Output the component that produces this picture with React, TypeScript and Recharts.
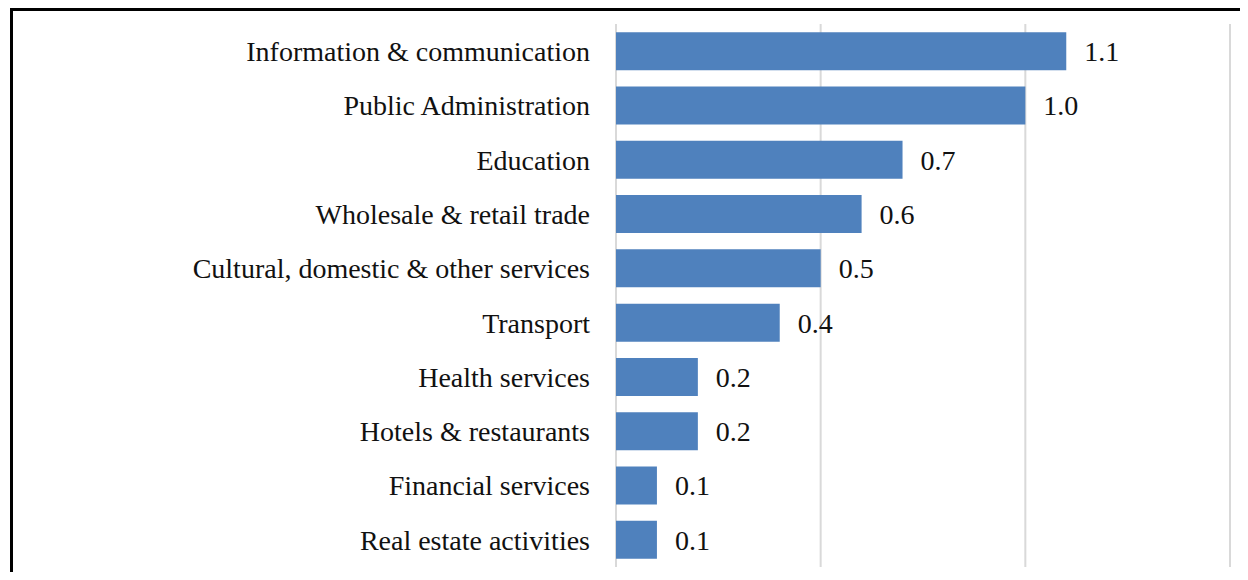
import React from 'react';
import { BarChart, Bar, XAxis, YAxis, CartesianGrid, LabelList } from 'recharts';

const sectors = [
  'Information & communication',
  'Public Administration',
  'Education',
  'Wholesale & retail trade',
  'Cultural, domestic & other services',
  'Transport',
  'Health services',
  'Hotels & restaurants',
  'Financial services',
  'Real estate activities',
];

const values = [1.1, 1.0, 0.7, 0.6, 0.5, 0.4, 0.2, 0.2, 0.1, 0.1];

const xTicks = [0, 0.5, 1, 1.5];

const data = sectors.map((name, i) => ({ name, value: values[i] }));

const FONT = '"Liberation Serif", serif';

const App: React.FC = () => {
  return (
    <div
      style={{
        position: 'relative',
        width: 1248,
        height: 580,
        margin: -8,
        overflow: 'hidden',
        background: '#fff',
      }}
    >
      {/* frame around the chart, only top and left edges are in view */}
      <div
        style={{
          position: 'absolute',
          left: 10,
          top: 8,
          width: 1238,
          height: 572,
          borderTop: '3px solid #000',
          borderLeft: '3px solid #000',
          boxSizing: 'border-box',
        }}
      />
      <div style={{ position: 'absolute', left: 0, top: 0 }}>
        <BarChart
          width={1248}
          height={580}
          data={data}
          layout="vertical"
          margin={{ top: 24, right: 18, bottom: 13, left: 0 }}
          barCategoryGap="15%"
        >
          <CartesianGrid horizontal={false} stroke="#d9d9d9" strokeWidth={2} />
          <XAxis type="number" domain={[0, 1.5]} ticks={xTicks} hide />
          <YAxis
            type="category"
            dataKey="name"
            width={616}
            axisLine={false}
            tickLine={false}
            tickSize={0}
            tickMargin={26}
            tick={{ fill: '#111', fontSize: 28, fontFamily: FONT }}
          />
          <Bar dataKey="value" fill="#4f81bd" isAnimationActive={false}>
            <LabelList
              dataKey="value"
              position="right"
              offset={18}
              formatter={(v: number) => v.toFixed(1)}
              style={{ fill: '#111', fontSize: 28, fontFamily: FONT }}
            />
          </Bar>
        </BarChart>
      </div>
    </div>
  );
};

export default App;
